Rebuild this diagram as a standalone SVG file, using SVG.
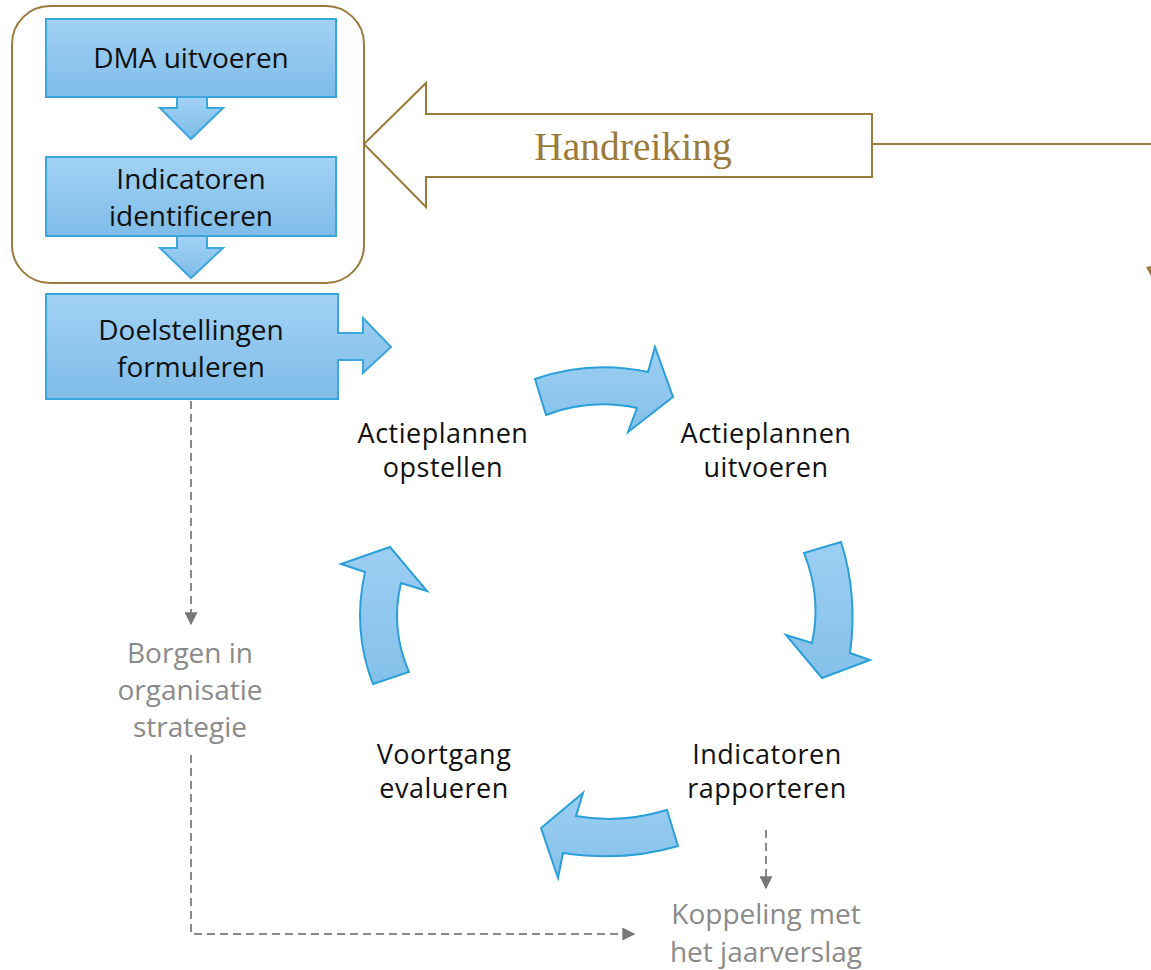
<svg xmlns="http://www.w3.org/2000/svg" width="1151" height="970" viewBox="0 0 1151 970">
<style>
.box{fill:url(#blue);stroke:#3aa6dc;stroke-width:2}
.cyc{fill:url(#blue2);stroke:#2a9fd8;stroke-width:2;stroke-linejoin:miter}
.t{font-family:"Open Sans","Liberation Sans",sans-serif;font-size:28px;fill:#111;text-anchor:middle}
.c{font-family:"Open Sans","Liberation Sans",sans-serif;font-size:27px;letter-spacing:0.5px;fill:#111;text-anchor:middle}
.g{font-family:"Open Sans","Liberation Sans",sans-serif;font-size:28px;fill:#8a8a8a;text-anchor:middle}
.dash{fill:none;stroke:#8a8a8a;stroke-width:2;stroke-dasharray:8 5}
.brown{fill:none;stroke:#9a7b3c;stroke-width:2}
</style>
<defs>
<linearGradient id="blue" x1="0" y1="0" x2="0" y2="1">
<stop offset="0" stop-color="#a2d2f5"/>
<stop offset="1" stop-color="#7fbce8"/>
</linearGradient>
<linearGradient id="blue2" gradientUnits="objectBoundingBox" x1="0" y1="0" x2="0" y2="1">
<stop offset="0" stop-color="#9dcff3"/>
<stop offset="1" stop-color="#84c0ea"/>
</linearGradient>
<marker id="ah" viewBox="0 0 10 10" refX="9" refY="5" markerWidth="6.5" markerHeight="6.5" markerUnits="strokeWidth" orient="auto">
<path d="M0,0 L10,5 L0,10 Z" fill="#777"/>
</marker>
</defs>
<rect width="1151" height="970" fill="#fff"/>

<g id="group-frame">
<rect x="12" y="6" width="352" height="277" rx="38" ry="38" class="brown"/>
</g>

<g id="node-dma">
<rect x="46" y="19" width="290" height="78" class="box"/>
<text x="191" y="68" class="t">DMA uitvoeren</text>
</g>
<g id="arrow-dma-ind">
<path d="M177,97 L207,97 L207,108 L223,108 L191,139 L160,108 L177,108 Z" class="box"/>
</g>

<g id="node-indicatoren">
<rect x="46" y="157" width="290" height="79" class="box"/>
<text x="191" y="189" class="t">Indicatoren</text>
<text x="191" y="226" class="t">identificeren</text>
</g>
<g id="arrow-ind-doel">
<path d="M177,236 L207,236 L207,248 L223,248 L191,278 L160,248 L177,248 Z" class="box"/>
</g>

<g id="node-doelstellingen">
<path d="M46,294 L338,294 L338,333 L363,333 L363,318 L391,347 L363,373 L363,360 L338,360 L338,399 L46,399 Z" class="box"/>
<text x="191" y="340" class="t">Doelstellingen</text>
<text x="191" y="377" class="t">formuleren</text>
</g>

<g id="node-handreiking">
<path d="M364,144 L426,83 L426,114 L872,114 L872,177 L426,177 L426,207 Z" fill="#fff" stroke="#9a7b3c" stroke-width="2"/>
<text x="633" y="160" font-family="Liberation Serif,serif" font-size="39.5" fill="#9a7b3c" text-anchor="middle">Handreiking</text>
<line x1="872" y1="144" x2="1151" y2="144" class="brown"/>
<polygon points="1146,267 1151,266 1151,276" fill="#9a7b3c"/>
</g>

<g id="node-opstellen">
<text x="443" y="443" class="c">Actieplannen</text>
<text x="443" y="477" class="c">opstellen</text>
</g>
<g id="node-uitvoeren">
<text x="766" y="443" class="c">Actieplannen</text>
<text x="766" y="477" class="c">uitvoeren</text>
</g>
<g id="node-rapporteren">
<text x="767" y="764" class="c">Indicatoren</text>
<text x="767" y="798" class="c">rapporteren</text>
</g>
<g id="node-evalueren">
<text x="444" y="764" class="c">Voortgang</text>
<text x="444" y="798" class="c">evalueren</text>
</g>
<g id="node-borgen">
<text x="190" y="663" class="g">Borgen in</text>
<text x="190" y="700" class="g">organisatie</text>
<text x="190" y="737" class="g">strategie</text>
</g>
<g id="node-koppeling">
<text x="766" y="924" class="g">Koppeling met</text>
<text x="766" y="962" class="g">het jaarverslag</text>
</g>

<g id="connectors">
<path d="M535,379 Q590,360 648,372 L655,347 L673,397 L628,432 L637,408 Q590,398 546,415 Z" class="cyc"/>
<path d="M804,553 L841,542 Q858,595 850,653 L870,660 L822,678 L786,635 L812,643 Q822,598 804,553 Z" class="cyc"/>
<path d="M667,810 Q620,824 576,816 L583,793 L541,828 L558,878 L563,853 Q625,862 678,846 Z" class="cyc"/>
<path d="M373,684 L409,672 Q390,628 401,583 L427,591 L390,547 L341,564 L365,572 Q352,630 373,684 Z" class="cyc"/>
<path d="M191,401 L191,624" class="dash" marker-end="url(#ah)"/>
<path d="M191,755 L191,934 L634,934" class="dash" marker-end="url(#ah)"/>
<path d="M766,830 L766,888" class="dash" marker-end="url(#ah)"/>
</g>
</svg>
